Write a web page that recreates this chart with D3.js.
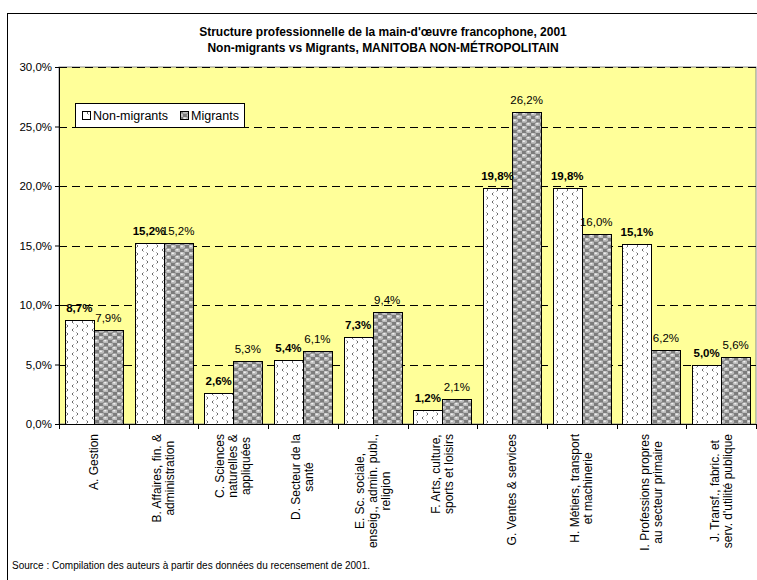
<!DOCTYPE html>
<html>
<head>
<meta charset="utf-8">
<script src="https://cdn.jsdelivr.net/npm/d3@7"></script>
<style>
body { margin: 0; background: #fff; }
text { font-family: "Liberation Sans", Arial, sans-serif; }
</style>
</head>
<body>
<svg id="chart" width="757" height="580"></svg>
<script>
// data
var categories = ["A", "B", "C", "D", "E", "F", "G", "H", "I", "J"];
var catLabels = [
	["A. Gestion"],
	["B. Affaires,  fin. &", "administration"],
	["C. Sciences", "naturelles &", "appliquées"],
	["D. Secteur de la", "santé"],
	["E. Sc. sociale,", "enseig., admin. publ.,", "religion"],
	["F. Arts,  culture,", "sports et loisirs"],
	["G. Ventes & services"],
	["H. Métiers,  transport", "et machinerie"],
	["I. Professions propres", "au secteur primaire"],
	["J. Transf.,  fabric. et", "serv. d'utilité publique"]
];
var nonMigrants = [8.7, 15.2, 2.6, 5.4, 7.3, 1.2, 19.8, 19.8, 15.1, 5.0];
var migrants = [7.9, 15.2, 5.3, 6.1, 9.4, 2.1, 26.2, 16.0, 6.2, 5.6];
var seriesNames = ["Non-migrants", "Migrants"];
var yTicks = [0, 5, 10, 15, 20, 25, 30];

var svg = d3.select("#chart");
var fmt = function(v) { return v.toFixed(1).replace(".", ",") + "%"; };

var pLeft = 59, pRight = 756, pTop = 67, pBottom = 424;

// patterns
var defs = svg.append("defs");
var p1 = defs.append("pattern").attr("id", "pNon")
	.attr("patternUnits", "userSpaceOnUse").attr("width", 10).attr("height", 8);
p1.append("rect").attr("width", 10).attr("height", 8).attr("fill", "#fff");
p1.append("path").attr("d", "M3.5,0.5 L2,2 L3.5,3.5").attr("fill", "none").attr("stroke", "#444").attr("stroke-width", 0.8);
p1.append("path").attr("d", "M6.5,4.5 L8,6 L6.5,7.5").attr("fill", "none").attr("stroke", "#444").attr("stroke-width", 0.8);

var p2 = defs.append("pattern").attr("id", "pMig")
	.attr("patternUnits", "userSpaceOnUse").attr("width", 9).attr("height", 7);
p2.append("rect").attr("width", 9).attr("height", 7).attr("fill", "#7c7c7c");
p2.append("ellipse").attr("cx", 2.25).attr("cy", 1.75).attr("rx", 2.9).attr("ry", 2.1).attr("fill", "#bdbdbd");
p2.append("ellipse").attr("cx", 6.75).attr("cy", 5.25).attr("rx", 2.9).attr("ry", 2.1).attr("fill", "#bdbdbd");
p2.append("ellipse").attr("cx", 1.8).attr("cy", 1.2).attr("rx", 1.3).attr("ry", 0.8).attr("fill", "#f4f4f4");
p2.append("ellipse").attr("cx", 6.3).attr("cy", 4.7).attr("rx", 1.3).attr("ry", 0.8).attr("fill", "#f4f4f4");

// outer frame
svg.append("rect").attr("x", 7.5).attr("y", 13.5).attr("width", 760).attr("height", 580)
	.attr("fill", "#fff").attr("stroke", "#000").attr("stroke-width", 1);

// title
svg.append("text").attr("x", 383).attr("y", 36).attr("text-anchor", "middle")
	.attr("font-size", 12).attr("font-weight", "bold")
	.text("Structure professionnelle de la main-d'œuvre francophone, 2001");
svg.append("text").attr("x", 383).attr("y", 52).attr("text-anchor", "middle")
	.attr("font-size", 12).attr("font-weight", "bold")
	.text("Non-migrants vs Migrants, MANITOBA NON-MÉTROPOLITAIN");

var x = d3.scaleBand().domain(categories).range([pLeft, pRight]).paddingInner(0).paddingOuter(0);
var xs = d3.scaleBand().domain(seriesNames).range([0, x.bandwidth()]).paddingInner(0).paddingOuter(0.2);
var y = d3.scaleLinear().domain([0, 30]).range([pBottom, pTop]);

// plot area
svg.append("rect").attr("x", pLeft).attr("y", pTop).attr("width", pRight - pLeft).attr("height", pBottom - pTop)
	.attr("fill", "#ffff99").attr("stroke", "#888").attr("stroke-width", 1);

// gridlines
svg.append("g").selectAll("line").data(yTicks.filter(function(d) { return d > 0; }))
	.enter().append("line")
	.attr("x1", pLeft).attr("x2", pRight)
	.attr("y1", function(d) { return Math.round(y(d)) + 0.5; })
	.attr("y2", function(d) { return Math.round(y(d)) + 0.5; })
	.attr("stroke", "#000").attr("stroke-dasharray", "8,5");

// bars
var series = [nonMigrants, migrants];
series.forEach(function(vals, si) {
	svg.append("g").selectAll("rect").data(vals).enter().append("rect")
		.attr("x", function(d, i) { return Math.round(x(categories[i]) + xs(seriesNames[si])) + 0.5; })
		.attr("y", function(d) { return Math.round(y(d)) + 0.5; })
		.attr("width", Math.round(xs.bandwidth()))
		.attr("height", function(d) { return Math.round(pBottom - y(d)); })
		.attr("fill", si == 0 ? "url(#pNon)" : "url(#pMig)")
		.attr("stroke", "#000").attr("stroke-width", 1);
});

// value labels
series.forEach(function(vals, si) {
	svg.append("g").selectAll("text").data(vals).enter().append("text")
		.attr("x", function(d, i) { return x(categories[i]) + xs(seriesNames[si]) + xs.bandwidth() / 2; })
		.attr("y", function(d) { return y(d) - 8; })
		.attr("text-anchor", "middle")
		.attr("font-size", 11.5)
		.attr("font-weight", si == 0 ? "bold" : "normal")
		.text(function(d) { return fmt(d); });
});

// y axis
var yAxis = svg.append("g").attr("transform", "translate(" + pLeft + ",0)")
	.call(d3.axisLeft(y).tickValues(yTicks).tickSize(4).tickFormat(function(d) { return d.toFixed(1).replace(".", ",") + "%"; }));
yAxis.select(".domain").attr("stroke", "#000");
yAxis.selectAll("text").attr("font-size", 11.5).attr("font-family", "Liberation Sans, Arial, sans-serif").attr("fill", "#000");

// x axis
var xAxis = svg.append("g").attr("transform", "translate(0," + pBottom + ")");
xAxis.append("line").attr("x1", pLeft).attr("x2", pRight).attr("y1", 0.5).attr("y2", 0.5).attr("stroke", "#000");
xAxis.selectAll(".tk").data(categories.concat(["end"])).enter().append("line")
	.attr("x1", function(d, i) { return Math.round(pLeft + i * x.bandwidth()) + 0.5; })
	.attr("x2", function(d, i) { return Math.round(pLeft + i * x.bandwidth()) + 0.5; })
	.attr("y1", 0).attr("y2", 5).attr("stroke", "#000");

// category labels, rotated
var lineH = 13;
categories.forEach(function(c, i) {
	var lines = catLabels[i];
	var g = svg.append("g");
	var texts = lines.map(function(l, li) {
		return g.append("text").attr("font-size", 12).attr("text-anchor", "middle").text(l);
	});
	var maxW = d3.max(texts, function(t) { return t.node().getComputedTextLength(); });
	var cx = x(c) + x.bandwidth() / 2;
	var n = lines.length;
	texts.forEach(function(t, li) {
		var px = cx + (li - (n - 1) / 2) * lineH + 4;
		var py = 434 + maxW / 2;
		t.attr("transform", "translate(" + px + "," + py + ") rotate(-90)");
	});
});

// legend
var lg = svg.append("g").attr("transform", "translate(75,103)");
lg.append("rect").attr("x", 0.5).attr("y", 0.5).attr("width", 169).attr("height", 24)
	.attr("fill", "#fff").attr("stroke", "#000");
var lx = [7, 105];
seriesNames.forEach(function(s, i) {
	lg.append("rect").attr("x", lx[i] + 0.5).attr("y", 8.5).attr("width", 8).attr("height", 8)
		.attr("fill", i == 0 ? "url(#pNon)" : "url(#pMig)").attr("stroke", "#000");
	lg.append("text").attr("x", lx[i] + 11).attr("y", 17).attr("font-size", 12.5).text(s);
});

// source
svg.append("text").attr("x", 12).attr("y", 569).attr("font-size", 10)
	.text("Source : Compilation des auteurs à partir des données du recensement de 2001.");
</script>
</body>
</html>
